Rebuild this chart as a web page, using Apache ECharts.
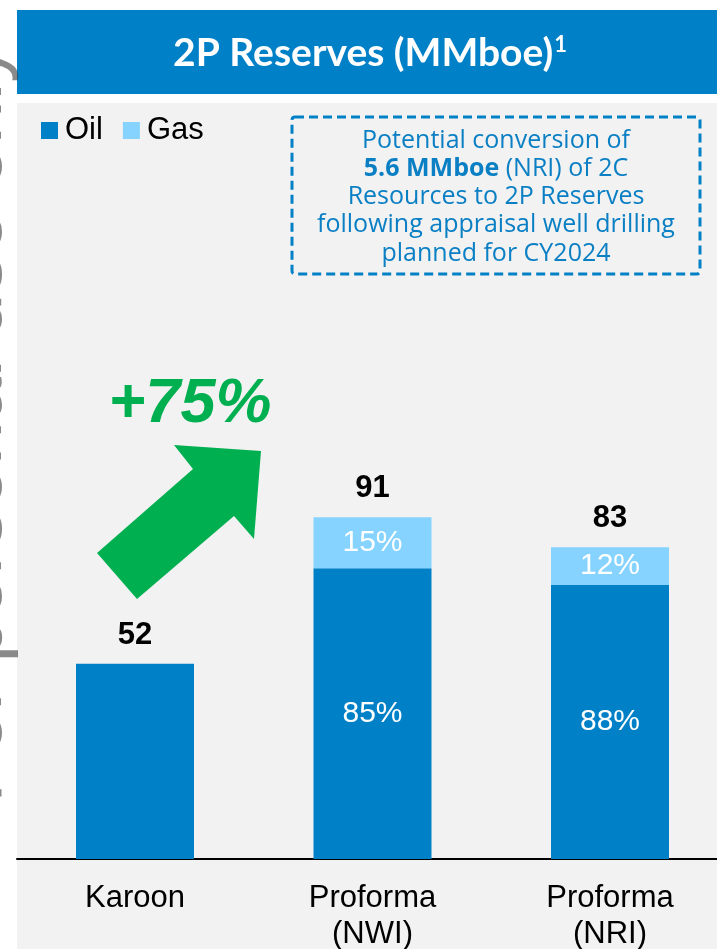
<!DOCTYPE html>
<html>
<head>
<meta charset="utf-8">
<script src="https://cdn.jsdelivr.net/npm/echarts@6/dist/echarts.min.js"></script>
<style>
  html, body { margin: 0; padding: 0; background: #ffffff; }
  #chart { width: 717px; height: 949px; }
</style>
</head>
<body>
<div id="chart"></div>
<script>
// ---- data ----
var categories = ['Karoon', 'Proforma\n(NWI)', 'Proforma\n(NRI)'];
var oilValues = [52, 77.4, 73.0];
var gasValues = [0, 13.6, 10.0];
var totalLabels = ['52', '91', '83'];
var oilShareLabels = ['', '85%', '88%'];
var gasShareLabels = ['', '15%', '12%'];
var seriesNames = ['Oil', 'Gas'];
var chartTitle = '2P Reserves (MMboe)';
var titleNote = '1';
var growthLabel = '+75%';

var OIL = '#0080C6';
var GAS = '#86D3FF';
var FONT = '"Liberation Sans", Arial, sans-serif';

var chart = echarts.init(document.getElementById('chart'), null, { renderer: 'canvas' });

var option = {
  backgroundColor: '#ffffff',
  animation: false,
  grid: [
    { left: 17, right: 0, top: 108, bottom: 90, containLabel: false, outerBoundsMode: 'none' },   // full-width baseline
    { left: 135, right: 107, top: 108, bottom: 90, containLabel: false, outerBoundsMode: 'none' } // bars
  ],
  legend: {
    data: seriesNames,
    left: 36, top: 110,
    icon: 'rect', itemWidth: 17, itemHeight: 17, itemGap: 20,
    textStyle: { fontFamily: FONT, fontSize: 31, color: '#000000', padding: [0, 0, 0, 2] }
  },
  xAxis: [
    {
      gridIndex: 0, type: 'category', data: categories,
      axisLine: { show: true, lineStyle: { color: '#000000', width: 2 } },
      axisTick: { show: false }, axisLabel: { show: false }, splitLine: { show: false }
    },
    {
      gridIndex: 1, type: 'category', data: categories, boundaryGap: false,
      axisLine: { show: false },
      axisTick: { show: false },
      axisLabel: { fontFamily: FONT, fontSize: 31, color: '#000000', margin: 21, lineHeight: 36, interval: 0 },
      splitLine: { show: false }
    }
  ],
  yAxis: [
    { gridIndex: 0, type: 'value', min: 0, max: 200, show: false, splitLine: { show: false } },
    { gridIndex: 1, type: 'value', min: 0, max: 200, show: false, splitLine: { show: false } }
  ],
  series: [
    {
      name: seriesNames[0], type: 'bar', stack: 'total', barWidth: 118, clip: false,
      xAxisIndex: 1, yAxisIndex: 1,
      data: oilValues,
      itemStyle: { color: OIL },
      label: {
        show: true, position: 'inside', color: '#ffffff', fontFamily: FONT, fontSize: 30,
        formatter: function (p) { return oilShareLabels[p.dataIndex]; }
      },
      z: 2
    },
    {
      name: seriesNames[1], type: 'bar', stack: 'total', barWidth: 118, clip: false,
      xAxisIndex: 1, yAxisIndex: 1,
      data: gasValues,
      itemStyle: { color: GAS },
      label: {
        show: true, position: 'inside', color: '#ffffff', fontFamily: FONT, fontSize: 30,
        formatter: function (p) { return gasShareLabels[p.dataIndex]; }
      },
      z: 2
    },
    {
      name: 'Total', type: 'bar', stack: 'total', barWidth: 118, clip: false,
      xAxisIndex: 1, yAxisIndex: 1,
      data: [0, 0, 0],
      itemStyle: { color: 'transparent' },
      label: {
        show: true, position: 'top', distance: 13, color: '#000000', fontFamily: FONT,
        fontSize: 31, fontWeight: 'bold',
        formatter: function (p) { return totalLabels[p.dataIndex]; }
      },
      z: 3
    }
  ],
  graphic: [
    { type: 'rect', z: -10, silent: true, shape: { x: 17, y: 103, width: 700, height: 846 }, style: { fill: '#f2f2f2' } },
    { type: 'rect', z: -10, silent: true, shape: { x: 17, y: 10, width: 700, height: 84 }, style: { fill: '#0080C6' } },
    {
      type: 'text', z: 5, silent: true, x: 370, y: 53,
      style: {
        text: '{t|' + chartTitle + '}{s|' + titleNote + '}',
        textAlign: 'center', textVerticalAlign: 'middle',
        rich: {
          t: { fontFamily: 'Lato, "Open Sans", sans-serif', fontWeight: 'bold', fontSize: 39, fill: '#ffffff', color: '#ffffff' },
          s: { fontFamily: 'Lato, "Open Sans", sans-serif', fontWeight: 'bold', fontSize: 22, fill: '#ffffff', color: '#ffffff', verticalAlign: 'top', padding: [0, 0, 16, 1] }
        }
      }
    },
    {
      type: 'rect', z: 5, silent: true,
      shape: { x: 292, y: 117, width: 408, height: 157, r: 3 },
      style: { fill: 'none', stroke: '#0080C6', lineWidth: 3, lineDash: [9, 5] }
    },
    {
      type: 'text', z: 5, silent: true, x: 496, y: 197,
      style: {
        text: '{n|Potential conversion of}\n{b|5.6 MMboe}{n| (NRI) of 2C}\n{n|Resources to 2P Reserves}\n{n|following appraisal well drilling}\n{n|planned for CY2024}',
        textAlign: 'center', textVerticalAlign: 'middle',
        rich: {
          n: { fontFamily: '"Open Sans", sans-serif', fontSize: 25, lineHeight: 28.3, fill: '#0a7fc4', color: '#0a7fc4' },
          b: { fontFamily: '"Open Sans", sans-serif', fontSize: 25, lineHeight: 28.3, fontWeight: 'bold', fill: '#0a7fc4', color: '#0a7fc4' }
        }
      }
    },
    {
      type: 'text', z: 5, silent: true, x: 190, y: 405,
      style: {
        text: growthLabel, textAlign: 'center', textVerticalAlign: 'middle',
        font: 'italic bold 63px "Liberation Sans", Arial, sans-serif', fill: '#00B050'
      }
    },
    {
      type: 'polygon', z: 5, silent: true,
      shape: { points: [[97, 553], [137, 599], [234, 516], [254, 539], [261, 451], [174, 445], [193, 469]] },
      style: { fill: '#00B050' }
    },
    {
      type: 'text', z: 100, silent: true, x: -21, y: 803, rotation: Math.PI / 2,
      style: {
        text: 'For personal use only', textAlign: 'left', textVerticalAlign: 'middle',
        font: '79px "Liberation Sans", Arial, sans-serif', fill: 'rgba(60,60,60,0.6)'
      }
    }
  ]
};
chart.setOption(option);
</script>
</body>
</html>
